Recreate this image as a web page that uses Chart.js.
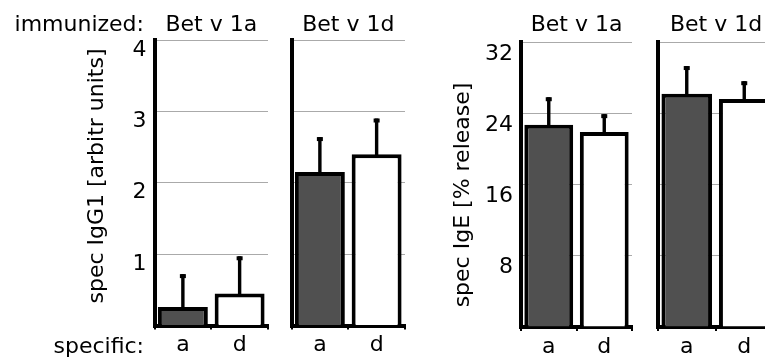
<!DOCTYPE html>
<html>
<head>
<meta charset="utf-8">
<script src="https://cdn.jsdelivr.net/npm/chart.js@4"></script>
<style>
  html, body { margin: 0; padding: 0; background: #fff; width: 765px; height: 362px; overflow: hidden; }
  canvas { position: absolute; left: 0; top: 0; }
</style>
</head>
<body>
<canvas id="p1" width="800" height="362"></canvas>
<canvas id="p2" width="800" height="362"></canvas>
<canvas id="p3" width="800" height="362"></canvas>
<canvas id="p4" width="800" height="362"></canvas>
<script>
const categories = ["a", "d"];
const immunized = ["Bet v 1a", "Bet v 1d"];

// spec IgG1 [arbitr units]
const igg1Mean1a = [0.26, 0.45];
const igg1Sd1a = [0.46, 0.52];
const igg1Mean1d = [2.15, 2.40];
const igg1Sd1d = [0.49, 0.50];

// spec IgE [% release]
const igeMean1a = [22.7, 21.9];
const igeSd1a = [3.1, 2.0];
const igeMean1d = [26.2, 25.6];
const igeSd1d = [3.1, 2.0];

const FONT = "DejaVu Sans";
const W = 800, H = 362;
const Y_W = 60, X_H = 34;

const errorBars = {
  id: "errorBars",
  afterDatasetsDraw(chart) {
    const ctx = chart.ctx;
    const y = chart.scales.y;
    const ds = chart.data.datasets[0];
    const meta = chart.getDatasetMeta(0);
    ctx.save();
    ctx.fillStyle = "#000";
    meta.data.forEach((bar, i) => {
      const top = y.getPixelForValue(ds.data[i] + ds.errors[i]);
      ctx.fillRect(bar.x - 1.7, top, 3.4, bar.y - top + 2);
      ctx.fillRect(bar.x - 3, top, 6, 4);
    });
    ctx.restore();
  }
};

const texts = {
  id: "texts",
  afterDraw(chart, args, opts) {
    const { ctx, chartArea } = chart;
    ctx.save();
    ctx.font = "22px '" + FONT + "'";
    ctx.fillStyle = "#000";
    ctx.textAlign = "center";
    ctx.textBaseline = "alphabetic";
    ctx.fillText(opts.title, opts.titleX || (chartArea.left + chartArea.right) / 2, 31);
    (opts.extra || []).forEach(t => {
      ctx.textAlign = t.align || "center";
      ctx.fillText(t.text, t.x, t.y);
    });
    if (opts.yTitle) {
      ctx.translate(opts.yTitle.x, opts.yTitle.y);
      ctx.rotate(-Math.PI / 2);
      ctx.textAlign = "center";
      ctx.textBaseline = "middle";
      ctx.fillText(opts.yTitle.text, 0, 0);
    }
    ctx.restore();
  }
};

function panel(id, box, title, means, sds, yMax, step, showTicks, labelOffset, extra, yTitle, titleX) {
  return new Chart(document.getElementById(id), {
    type: "bar",
    data: {
      labels: categories,
      datasets: [{
        data: means,
        errors: sds,
        backgroundColor: ["#505050", "#ffffff"],
        borderColor: "#000",
        borderWidth: { top: 4, left: 4, right: 4, bottom: 0 },
        barPercentage: 0.88,
        categoryPercentage: 1,
      }],
    },
    options: {
      responsive: false,
      animation: false,
      events: [],
      layout: { padding: { left: box.l - Y_W, top: box.t, right: W - box.r, bottom: H - box.b - X_H } },
      plugins: {
        legend: { display: false },
        tooltip: { enabled: false },
        texts: { title: title, extra: extra, yTitle: yTitle, titleX: titleX },
      },
      scales: {
        x: {
          grid: { offset: true, drawOnChartArea: false, drawTicks: true, tickLength: 4, color: "#000", lineWidth: 2 },
          border: { color: "#000", width: 4 },
          ticks: { color: "#000", font: { family: FONT, size: 22 }, padding: 3, maxRotation: 0 },
          afterFit: (s) => { s.height = X_H; },
        },
        y: {
          min: 0,
          max: yMax,
          ticks: {
            display: showTicks,
            stepSize: step,
            color: "#000",
            font: { family: FONT, size: 22 },
            padding: 8,
            labelOffset: labelOffset,
            callback: (v) => (v === 0 ? "" : v),
          },
          grid: { color: "#aaaaaa", lineWidth: 1, drawTicks: false },
          border: { color: "#000", width: 4 },
          afterFit: (s) => { s.width = Y_W; },
        },
      },
    },
    plugins: [errorBars, texts],
  });
}

panel("p1", { l: 154.5, r: 268, t: 40, b: 325.5 }, immunized[0], igg1Mean1a, igg1Sd1a, 4, 1, true, 10,
  [{ text: "immunized:", x: 144, y: 31, align: "right" }, { text: "specific:", x: 144, y: 353, align: "right" }],
  { text: "spec IgG1 [arbitr units]", x: 97, y: 176 });
panel("p2", { l: 291.5, r: 405, t: 40, b: 325.5 }, immunized[1], igg1Mean1d, igg1Sd1d, 4, 1, false, 10, [], null);
panel("p3", { l: 521, r: 632, t: 42, b: 327 }, immunized[0], igeMean1a, igeSd1a, 32, 8, true, 12, [],
  { text: "spec IgE [% release]", x: 463, y: 195 });
panel("p4", { l: 658, r: 773, t: 42, b: 327 }, immunized[1], igeMean1d, igeSd1d, 32, 8, false, 12, [], null, 716);
</script>
</body>
</html>
